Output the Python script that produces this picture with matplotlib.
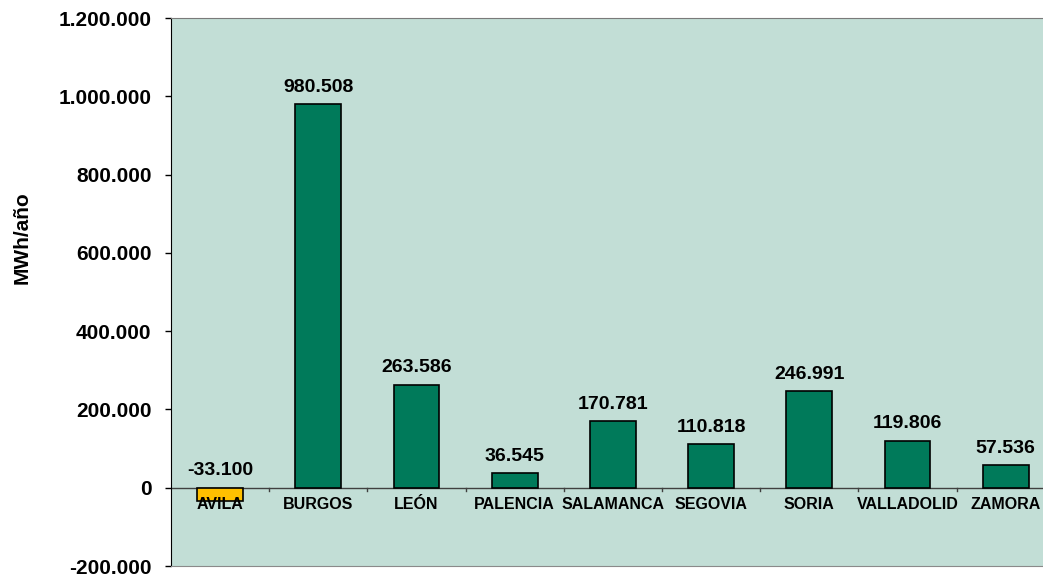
import matplotlib.pyplot as plt
import numpy as np

plt.rcParams['font.family'] = ['Liberation Sans', 'DejaVu Sans']
plt.rcParams['font.weight'] = 'bold'

provincias = ["AVILA", "BURGOS", "LEÓN", "PALENCIA", "SALAMANCA",
              "SEGOVIA", "SORIA", "VALLADOLID", "ZAMORA"]
valores = [-33100, 980508, 263586, 36545, 170781, 110818, 246991, 119806, 57536]
etiquetas = ["-33.100", "980.508", "263.586", "36.545", "170.781",
             "110.818", "246.991", "119.806", "57.536"]
yticks = [-200000, 0, 200000, 400000, 600000, 800000, 1000000, 1200000]
ytick_labels = ["-200.000", "0", "200.000", "400.000", "600.000",
                "800.000", "1.000.000", "1.200.000"]

colores = ['#ffc000' if v < 0 else '#007a5a' for v in valores]

fig = plt.figure(figsize=(10.43, 5.75), dpi=100)
# plot area: x 171..1043 px (runs slightly past the picture edge), y 18..566 px
ax = fig.add_axes([171 / 1043, 9 / 575, 872 / 1043, 548 / 575])
ax.set_facecolor('#c2ded6')

x = np.arange(len(provincias))
ax.bar(x, valores, width=0.468, color=colores, edgecolor='black', linewidth=1.2, zorder=3)

# last category is cut by the right edge in the original
ax.set_xlim(-0.5, len(provincias) - 0.62)
ax.set_ylim(-200000, 1200000)
ax.set_yticks(yticks)
ax.set_yticklabels(ytick_labels, fontsize=15, fontweight='bold')
ax.tick_params(axis='y', length=4.5, width=1, pad=9.5)
ax.set_xticks([])

# zero line with category separator ticks
ax.axhline(0, color='#404040', linewidth=1, zorder=2)
for b in np.arange(0.5, len(provincias) - 0.5, 1):
    ax.plot([b, b], [0, -8000], color='#404040', linewidth=1, zorder=2)

for i, (v, lab) in enumerate(zip(valores, etiquetas)):
    top = max(v, 0)
    ax.annotate(lab, (i, top), xytext=(0, 6), textcoords='offset points',
                ha='center', va='bottom', fontsize=14, fontweight='bold', zorder=4)
    ax.annotate(provincias[i], (i, 0), xytext=(0, -6.5), textcoords='offset points',
                ha='center', va='top', fontsize=11.5, fontweight='bold', zorder=4)

ax.spines['left'].set_color('black')
ax.spines['top'].set_color('#7a7a7a')
ax.spines['right'].set_visible(False)
ax.spines['bottom'].set_color('#8a8a8a')

fig.text(22 / 1043, 1 - 238 / 575, "MWh/año", rotation=90, ha='center', va='center',
         fontsize=15, fontweight='bold')

fig.savefig('out.png', dpi=100)
